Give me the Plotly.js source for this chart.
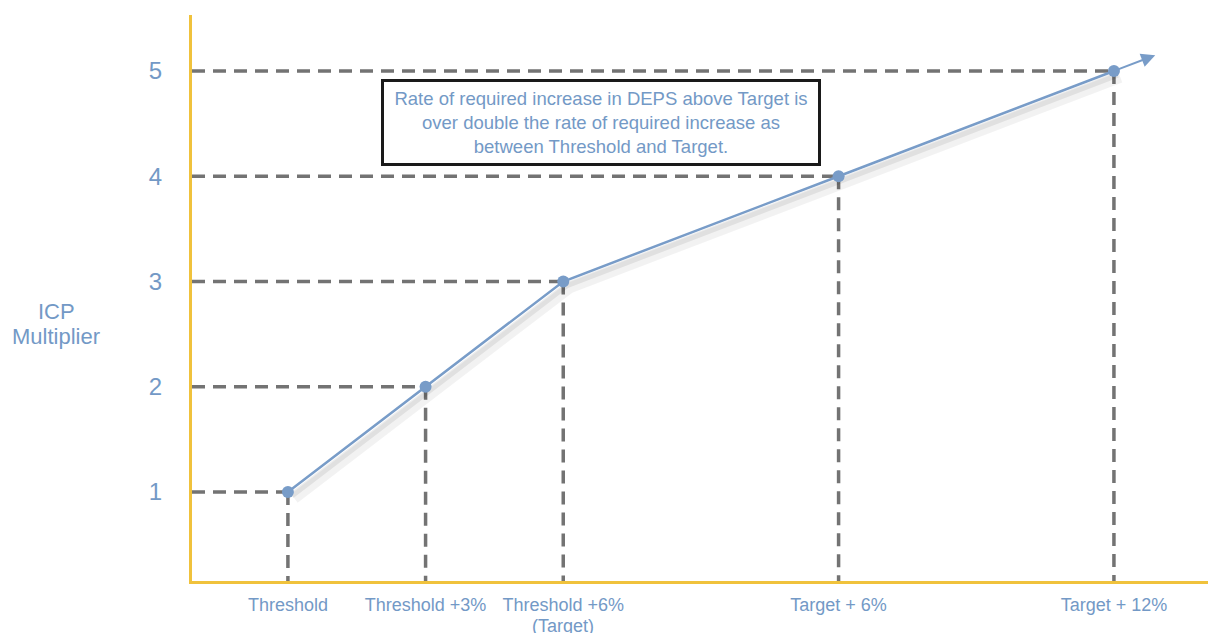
<!DOCTYPE html>
<html>
<head>
<meta charset="utf-8">
<script src="https://cdn.plot.ly/plotly-3.0.1.min.js"></script>
<style>html,body{margin:0;padding:0;background:#fff;}#chart{width:1208px;height:633px;}</style>
</head>
<body>
<div id="chart"></div>
<script>
// Data
const categories = ["Threshold", "Threshold +3%", "Threshold +6%<br>(Target)", "Target + 6%", "Target + 12%"];
const pctAboveThreshold = [0, 3, 6, 12, 18];
const icpMultiplier = [1, 2, 3, 4, 5];
const yTitleLines = ["ICP", "Multiplier"];
const noteText = "Rate of required increase in DEPS above Target is<br>over double the rate of required increase as<br>between Threshold and Target.";

const xMin = -2.09, xMax = 20.05, yMin = 0.154, yMax = 5.532;
const blue = "#789cc8";
const textBlue = "#7399c6";
const dashGray = "#737373";
const axisYellow = "#f0c23c";
const font = "Arial, 'Liberation Sans', sans-serif";

const traces = [];
// dashed guide lines
pctAboveThreshold.forEach((x, i) => {
  const y = icpMultiplier[i];
  traces.push({x: [xMin, x], y: [y, y], mode: "lines", hoverinfo: "skip",
    line: {color: dashGray, width: 3.5, dash: "13px,8px"}, showlegend: false});
  traces.push({x: [x, x], y: [y, yMin], mode: "lines", hoverinfo: "skip",
    line: {color: dashGray, width: 3.5, dash: "13px,8px"}, showlegend: false});
});
// soft shadow
traces.push({x: pctAboveThreshold.map(v => v + 0.14), y: icpMultiplier.map(v => v - 0.06),
  mode: "lines", line: {color: "rgba(0,0,0,0.05)", width: 11}, hoverinfo: "skip", showlegend: false});
traces.push({x: pctAboveThreshold.map(v => v + 0.08), y: icpMultiplier.map(v => v - 0.035),
  mode: "lines", line: {color: "rgba(0,0,0,0.07)", width: 6}, hoverinfo: "skip", showlegend: false});
// main line
traces.push({x: pctAboveThreshold, y: icpMultiplier, mode: "lines+markers",
  line: {color: blue, width: 2.5}, marker: {color: blue, size: 12}, showlegend: false});

// arrow extension of last segment
const n = pctAboveThreshold.length;
const ext = 0.15;
const headX = pctAboveThreshold[n-1] + (pctAboveThreshold[n-1] - pctAboveThreshold[n-2]) * ext;
const headY = icpMultiplier[n-1] + (icpMultiplier[n-1] - icpMultiplier[n-2]) * ext;

// tick labels: first line as tick text, extra lines as annotations (tighter line spacing)
const tickFirst = categories.map(c => c.split("<br>")[0]);
const extraLabelAnns = [];
categories.forEach((c, i) => {
  c.split("<br>").slice(1).forEach((line, j) => {
    extraLabelAnns.push({xref: "x", yref: "paper", x: pctAboveThreshold[i], y: -0.079 - 0.032 * j,
      yanchor: "middle", xanchor: "center", showarrow: false, text: line, borderpad: 0,
      font: {size: 18, color: textBlue, family: font}});
  });
});

const layout = {
  width: 1208, height: 633,
  margin: {l: 192, r: 0, t: 15, b: 52},
  paper_bgcolor: "#fff", plot_bgcolor: "#fff",
  font: {family: font, color: textBlue},
  xaxis: {
    range: [xMin, xMax], showgrid: false, zeroline: false,
    showline: true, linecolor: axisYellow, linewidth: 3,
    tickmode: "array", tickvals: pctAboveThreshold, ticktext: tickFirst,
    ticks: "outside", ticklen: 5, tickcolor: "rgba(0,0,0,0)",
    tickfont: {size: 18, color: textBlue, family: font}
  },
  yaxis: {
    range: [yMin, yMax], showgrid: false, zeroline: false,
    showline: true, linecolor: axisYellow, linewidth: 3,
    tickmode: "array", tickvals: icpMultiplier, ticktext: icpMultiplier.map(String),
    ticks: "outside", ticklen: 22, tickcolor: "rgba(0,0,0,0)",
    tickfont: {size: 24, color: textBlue, family: font}
  },
  annotations: [
    {xref: "paper", yref: "paper", x: -0.1334, y: 0.476, xanchor: "center", yanchor: "middle",
     text: yTitleLines[0], showarrow: false, font: {size: 22, color: textBlue, family: font}},
    {xref: "paper", yref: "paper", x: -0.1334, y: 0.432, xanchor: "center", yanchor: "middle",
     text: yTitleLines[1], showarrow: false, font: {size: 22, color: textBlue, family: font}},
    {xref: "paper", yref: "paper", x: 0.4026, y: 0.8095, xanchor: "center", yanchor: "middle",
     text: noteText, showarrow: false, align: "center",
     width: 430, height: 77, borderpad: 2, borderwidth: 3, bordercolor: "#1a1a1a", bgcolor: "#fff",
     font: {size: 18.5, color: textBlue, family: font}},
    {x: headX, y: headY, ax: pctAboveThreshold[n-1], ay: icpMultiplier[n-1], axref: "x", ayref: "y",
     xref: "x", yref: "y", text: "", showarrow: true, arrowhead: 2, arrowsize: 1.4, arrowwidth: 2,
     arrowcolor: blue}
  ].concat(extraLabelAnns)
};

Plotly.newPlot("chart", traces, layout, {displayModeBar: false, staticPlot: true});
</script>
</body>
</html>
